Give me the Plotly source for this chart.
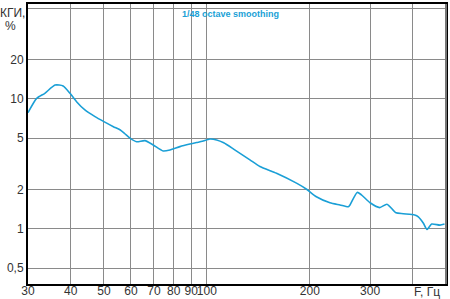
import math
import plotly.graph_objects as go

freq_hz = [30, 31.8, 33.6, 36.0, 38.0, 39.8, 41.6, 44.0, 47.1, 50, 53.3, 55.7, 57.6,
           59.6, 62.3, 65.9, 69.7, 74.5, 78, 83.4, 89.2, 93.3, 97, 102, 106.8, 112,
           120, 133.6, 142.9, 159.8, 182.8, 195.6, 209, 229, 245, 259, 262, 275, 283,
           300, 320, 336, 357, 375, 405, 415, 429, 440, 454, 480, 495]
thd_pct = [7.84, 10.1, 11.06, 12.8, 12.6, 11.06, 9.53, 8.23, 7.31, 6.69, 6.12, 5.8, 5.4,
           5.0, 4.69, 4.78, 4.43, 3.98, 4.05, 4.30, 4.50, 4.62, 4.72, 4.92, 4.84, 4.6,
           4.1, 3.40, 3.02, 2.68, 2.25, 2.02, 1.77, 1.59, 1.53, 1.48, 1.53, 1.91, 1.83,
           1.59, 1.46, 1.55, 1.33, 1.31, 1.28, 1.24, 1.11, 0.99, 1.09, 1.07, 1.09]

x_ticks = [30, 40, 50, 60, 70, 80, 90, 100, 200, 300, 400]
x_labels = ["30", "40", "50", "60", "70", "80", "90", "100", "200", "300", ""]
y_ticks = [0.5, 1, 2, 5, 10, 20, 50]
y_labels = ["0,5", "1", "2", "5", "10", "20", ""]

line_color = "#1a9fd6"
grid_color = "#8a8a8a"
text_color = "#333333"
font_family = "Liberation Sans, Arial, sans-serif"

fig = go.Figure()
fig.add_trace(go.Scatter(x=freq_hz, y=thd_pct, mode="lines", line_shape="spline",
                         line=dict(color=line_color, width=1.6, smoothing=0.6),
                         showlegend=False))

fig.update_layout(
    width=450, height=299,
    margin=dict(l=28, r=4, t=4, b=15),
    paper_bgcolor="white", plot_bgcolor="white",
    font=dict(family=font_family, size=12, color=text_color),
    xaxis=dict(type="log", range=[math.log10(30), math.log10(500)], automargin=False,
               tickvals=x_ticks, ticktext=x_labels, tickangle=0,
               showgrid=True, gridcolor=grid_color, gridwidth=1,
               showline=True, linecolor="black", linewidth=2, mirror=True,
               ticks="", ticklen=0, zeroline=False, ticklabelstandoff=-5,
               tickfont=dict(size=12, color=text_color)),
    yaxis=dict(type="log", range=[math.log10(0.377), math.log10(53.8)], automargin=False,
               tickvals=y_ticks, ticktext=y_labels,
               showgrid=True, gridcolor=grid_color, gridwidth=1,
               showline=True, linecolor="black", linewidth=2, mirror=True,
               ticks="", ticklen=0, zeroline=False,
               tickfont=dict(size=12, color=text_color)),
)

fig.add_shape(type="line", xref="paper", yref="paper", x0=1, x1=1, y0=0, y1=1,
              line=dict(color="#777777", width=2))

fig.add_annotation(text="1/48 octave smoothing", xref="paper", yref="paper",
                   x=0.485, y=0.99, xanchor="center", yanchor="top", showarrow=False,
                   font=dict(family=font_family, size=9, color=line_color, weight="bold"))
fig.add_annotation(text="КГИ,", xref="paper", yref="paper", x=-0.002, y=1.0,
                   xanchor="right", yanchor="top", showarrow=False,
                   font=dict(family=font_family, size=12, color=text_color))
fig.add_annotation(text="%", xref="paper", yref="paper", x=-0.025, y=0.955,
                   xanchor="right", yanchor="top", showarrow=False,
                   font=dict(family=font_family, size=12, color=text_color))
fig.add_annotation(text="F, Гц", xref="paper", yref="paper", x=0.955, y=-0.028,
                   xanchor="center", yanchor="middle", showarrow=False,
                   borderpad=0,
                   font=dict(family=font_family, size=12, color=text_color))

fig.write_html("out.html")
